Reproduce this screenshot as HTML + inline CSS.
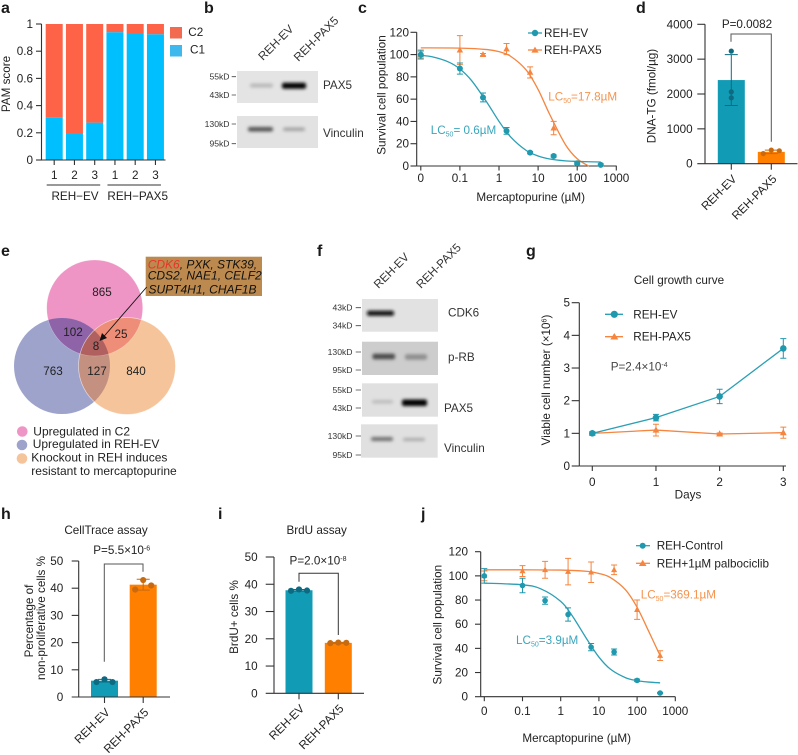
<!DOCTYPE html>
<html>
<head>
<meta charset="utf-8">
<title>Multi-panel figure: PAX5 and mercaptopurine resistance</title>
<style>
html,body{margin:0;padding:0;background:#fff;}
svg{display:block;}
text{font-family:"Liberation Sans",sans-serif;font-size:11.7px;fill:#222;}
.pl{font-size:16px;font-weight:bold;fill:#1a1a1a;}
.mk{font-size:8.6px;text-anchor:end;fill:#333;}
.bl{font-size:11.7px;fill:#333;}
.tk{stroke:#444;stroke-width:0.8;}
</style>
</head>
<body>
<svg id="fig" xmlns="http://www.w3.org/2000/svg" width="798" height="755" viewBox="0 0 798 755">
<defs>
<filter id="b1" x="-30%" y="-250%" width="160%" height="600%"><feGaussianBlur stdDeviation="1.7"/></filter>
<clipPath id="cT"><circle cx="94.7" cy="308" r="48"/></clipPath>
<clipPath id="cL"><circle cx="62" cy="366" r="48"/></clipPath>
<clipPath id="cR"><circle cx="127" cy="366" r="48.5"/></clipPath>
</defs>

<!-- panel letters -->
<text class="pl" x="1" y="13">a</text>
<text class="pl" x="204" y="13">b</text>
<text class="pl" x="358" y="13">c</text>
<text class="pl" x="636" y="13">d</text>
<text class="pl" x="1" y="256">e</text>
<text class="pl" x="317" y="256">f</text>
<text class="pl" x="526" y="256">g</text>
<text class="pl" x="1" y="519">h</text>
<text class="pl" x="218" y="519">i</text>
<text class="pl" x="421" y="519">j</text>

<!-- panel a static -->
<g id="pa">
<text transform="translate(10 84) rotate(-90)" text-anchor="middle">PAM score</text>
<rect x="170" y="27" width="12" height="11.5" fill="#F26A50"/>
<text x="188.3" y="36">C2</text>
<rect x="170" y="45" width="12" height="11.5" fill="#3FB8EE"/>
<text x="190" y="53.3">C1</text>
</g>

<!-- panel b blots -->
<g>
<text transform="translate(263 61) rotate(-45)" class="bl">REH-EV</text>
<text transform="translate(298.5 62) rotate(-45)" class="bl">REH-PAX5</text>
<rect x="237" y="71" width="81" height="32" fill="#e4e4e4"/>
<rect x="250" y="83.5" width="23" height="4" rx="2" fill="#b8b8b8" filter="url(#b1)"/>
<rect x="282" y="82.7" width="24" height="6" rx="2" fill="#000" filter="url(#b1)"/>
<rect x="237" y="116" width="81" height="32" fill="#e2e2e2"/>
<rect x="248" y="127" width="25" height="4.5" rx="2" fill="#555" filter="url(#b1)"/>
<rect x="283" y="127.5" width="22" height="3.5" rx="2" fill="#a2a2a2" filter="url(#b1)"/>
<text class="mk" x="229.5" y="79.7">55kD</text>
<text class="mk" x="229.5" y="98">43kD</text>
<text class="mk" x="229.5" y="127">130kD</text>
<text class="mk" x="229.5" y="146.7">95kD</text>
<path class="tk" d="M231.7 76.7H236M231.7 95H236M231.7 124H236M231.7 143.7H236"/>
<text class="bl" x="323" y="89">PAX5</text>
<text class="bl" x="323" y="137">Vinculin</text>
</g>

<!-- panel c static -->
<g id="pc">
<text transform="translate(385.5 95) rotate(-90)" text-anchor="middle">Survival cell population</text>
<text x="530.7" y="201" text-anchor="middle">Mercaptopurine (µM)</text>
<path d="M528 33H542" stroke="#2B9FB5" stroke-width="1.3"/>
<circle cx="535" cy="33" r="3.2" fill="#2098AE"/>
<text x="544" y="37">REH-EV</text>
<path d="M528 50H542" stroke="#F5853F" stroke-width="1.3"/>
<polygon points="535,46.6 538.6,52.6 531.4,52.6" fill="#F5853F"/>
<text x="544" y="54">REH-PAX5</text>
<text x="548.3" y="100.7" style="fill:#F5944F">LC<tspan dy="2.5" style="font-size:7px;fill:#F5944F">50</tspan><tspan dy="-2.5" style="fill:#F5944F">=17.8µM</tspan></text>
<text x="430.7" y="134" style="fill:#3AA6BC">LC<tspan dy="2.5" style="font-size:7px;fill:#3AA6BC">50</tspan><tspan dy="-2.5" style="fill:#3AA6BC">= 0.6µM</tspan></text>
</g>

<!-- panel d static -->
<g id="pd">
<text transform="translate(655.5 96) rotate(-90)" text-anchor="middle">DNA-TG (fmol/µg)</text>
<text x="747" y="28" text-anchor="middle">P=0.0082</text>
<path d="M731 41.7V34H771.3V141.7" fill="none" stroke="#555" stroke-width="1"/>
</g>

<!-- panel e venn -->
<g>
<circle cx="94.7" cy="308" r="48" fill="#EE95C5"/>
<circle cx="62" cy="366" r="48" fill="#9EA3CC"/>
<circle cx="127" cy="366" r="48.5" fill="#F5C49A"/>
<g clip-path="url(#cT)"><circle cx="62" cy="366" r="48" fill="#8E63A8"/></g>
<g clip-path="url(#cT)"><circle cx="127" cy="366" r="48.5" fill="#EE8D78"/></g>
<g clip-path="url(#cL)"><circle cx="127" cy="366" r="48.5" fill="#C49080"/></g>
<g clip-path="url(#cT)"><g clip-path="url(#cL)"><circle cx="127" cy="366" r="48.5" fill="#B0615F"/></g></g>
<circle cx="127" cy="366" r="48.5" fill="none" stroke="#fff" stroke-opacity=".6" stroke-width=".7"/>
<circle cx="94.7" cy="308" r="48" fill="none" stroke="#fff" stroke-opacity=".35" stroke-width=".6"/>
<g text-anchor="middle" fill="#111">
<text x="102" y="296">865</text>
<text x="73" y="336">102</text>
<text x="121" y="338">25</text>
<text x="96" y="350">8</text>
<text x="53" y="375">763</text>
<text x="97" y="375">127</text>
<text x="136" y="375">840</text>
</g>
<rect x="145.7" y="256.7" width="116.3" height="39.3" fill="#BC8A4E"/>
<g style="font-style:italic">
<text x="147.7" y="268.5" style="font-size:12px;font-style:italic;fill:#111"><tspan style="fill:#E8342A;font-style:italic;font-size:12px">CDK6</tspan>, PXK, STK39,</text>
<text x="147.7" y="279.5" style="font-size:12px;font-style:italic;fill:#111">CDS2, NAE1, CELF2</text>
<text x="148.5" y="293.5" style="font-size:12px;font-style:italic;fill:#111">SUPT4H1, CHAF1B</text>
</g>
<path d="M146.7 287L103 337.5" stroke="#111" stroke-width=".9"/>
<polygon points="99.5,341 102,333 107,338" fill="#111"/>
<circle cx="22.3" cy="431.5" r="5.3" fill="#EE95C5"/>
<circle cx="22" cy="445" r="5.3" fill="#9EA3CC"/>
<circle cx="22" cy="458.5" r="5.3" fill="#F5C49A"/>
<text x="33.3" y="435.5" style="font-size:12px">Upregulated in C2</text>
<text x="32.7" y="448" style="font-size:12px">Upregulated in REH-EV</text>
<text x="31.3" y="461.5" style="font-size:12px">Knockout in REH induces</text>
<text x="31.3" y="475" style="font-size:12px">resistant to mercaptopurine</text>
</g>

<!-- panel f blots -->
<g>
<text transform="translate(378.5 289) rotate(-45)" class="bl">REH-EV</text>
<text transform="translate(421 289) rotate(-45)" class="bl">REH-PAX5</text>
<rect x="362" y="299" width="76" height="32.7" fill="#e2e2e2"/>
<rect x="367" y="310.7" width="27" height="5" rx="2" fill="#0a0a0a" filter="url(#b1)"/>
<rect x="362" y="341.7" width="76" height="33.3" fill="#cdcdcd"/>
<rect x="372.5" y="353.7" width="22.5" height="5.5" rx="2" fill="#4a4a4a" filter="url(#b1)"/>
<rect x="405" y="354.2" width="22" height="5.5" rx="2" fill="#8e8e8e" filter="url(#b1)"/>
<rect x="362" y="383.3" width="76" height="33.4" fill="#e0e0e0"/>
<rect x="372" y="400" width="21" height="3.5" rx="2" fill="#bcbcbc" filter="url(#b1)"/>
<rect x="402" y="399.5" width="25" height="6.5" rx="2" fill="#000" filter="url(#b1)"/>
<rect x="361" y="424.3" width="76.7" height="33.4" fill="#e0e0e0"/>
<rect x="371" y="437" width="22" height="4" rx="2" fill="#707070" filter="url(#b1)"/>
<rect x="403" y="438" width="22" height="3" rx="1.5" fill="#a8a8a8" filter="url(#b1)"/>
<text class="mk" x="352.5" y="310.7">43kD</text>
<text class="mk" x="352.5" y="328.7">34kD</text>
<text class="mk" x="352.5" y="355">130kD</text>
<text class="mk" x="352.5" y="373">95kD</text>
<text class="mk" x="352.5" y="393">55kD</text>
<text class="mk" x="352.5" y="411">43kD</text>
<text class="mk" x="352.5" y="439">130kD</text>
<text class="mk" x="352.5" y="458">95kD</text>
<path class="tk" d="M355.7 307.7H361M355.7 325.7H361M355.7 352H361M355.7 370H361M355.7 390H361M355.7 408H361M355.7 436H361M355.7 455H361"/>
<text class="bl" x="448" y="316.7">CDK6</text>
<text class="bl" x="448" y="361">p-RB</text>
<text class="bl" x="444" y="412">PAX5</text>
<text class="bl" x="444" y="452">Vinculin</text>
</g>

<!-- panel g static -->
<g id="pg">
<text x="679" y="284" text-anchor="middle">Cell growth curve</text>
<text transform="translate(550 380) rotate(-90)" text-anchor="middle">Viable cell number (×10<tspan dy="-3.5" style="font-size:7px">6</tspan><tspan dy="3.5">)</tspan></text>
<text x="688" y="498.5" text-anchor="middle">Days</text>
<path d="M605 314.3H623" stroke="#2B9FB5" stroke-width="1.3"/>
<circle cx="614.3" cy="314.3" r="3.6" fill="#2098AE"/>
<text x="633.3" y="318.5">REH-EV</text>
<path d="M605 336.7H623" stroke="#F5853F" stroke-width="1.3"/>
<polygon points="614.3,333 618.3,339.5 610.3,339.5" fill="#F5853F"/>
<text x="633.3" y="340.7">REH-PAX5</text>
<text x="610.7" y="370.7" style="fill:#444">P=2.4×10<tspan dy="-3.5" style="font-size:7px;fill:#444">-4</tspan></text>
</g>

<!-- panel h static -->
<g id="ph">
<text x="106" y="534" text-anchor="middle">CellTrace assay</text>
<text transform="translate(33 621) rotate(-90)" text-anchor="middle">Percentage of</text>
<text transform="translate(45 618) rotate(-90)" text-anchor="middle">non-proliferative cells %</text>
<text x="121.7" y="554" text-anchor="middle">P=5.5×10<tspan dy="-3.5" style="font-size:7px">-6</tspan></text>
<path d="M104.3 661.7V564H143V571.7" fill="none" stroke="#555" stroke-width="1"/>
</g>

<!-- panel i static -->
<g id="pi">
<text x="316.7" y="534" text-anchor="middle">BrdU assay</text>
<text transform="translate(238 617) rotate(-90)" text-anchor="middle">BrdU+ cells %</text>
<text x="318" y="564.5" text-anchor="middle">P=2.0×10<tspan dy="-3.5" style="font-size:7px">-8</tspan></text>
<path d="M299 581.7V573.3H338.3V635" fill="none" stroke="#333" stroke-width="1"/>
</g>

<!-- panel j static -->
<g id="pj">
<text transform="translate(441.5 624.7) rotate(-90)" text-anchor="middle">Survival cell population</text>
<text x="576.7" y="742" text-anchor="middle">Mercaptopurine (µM)</text>
<path d="M636 545.7H650" stroke="#2B9FB5" stroke-width="1.3"/>
<circle cx="642.7" cy="545.7" r="3" fill="#2098AE"/>
<text x="656.7" y="549.7">REH-Control</text>
<path d="M636 563.3H650" stroke="#F5853F" stroke-width="1.3"/>
<polygon points="642.7,559.8 646.5,566 638.9,566" fill="#F5853F"/>
<text x="656.7" y="567.3">REH+1µM palbociclib</text>
<text x="640.7" y="598.3" style="fill:#F5944F">LC<tspan dy="2.5" style="font-size:7px;fill:#F5944F">50</tspan><tspan dy="-2.5" style="fill:#F5944F">=369.1µM</tspan></text>
<text x="516" y="644" style="fill:#3AA6BC">LC<tspan dy="2.5" style="font-size:7px;fill:#3AA6BC">50</tspan><tspan dy="-2.5" style="fill:#3AA6BC">=3.9µM</tspan></text>
</g>
</svg>

<script>
// ---------- panel a data ----------
const aCategories = ['1','2','3','1','2','3'];
const aGroups = ['REH−EV','REH−PAX5'];
const aC1 = [0.31,0.195,0.275,0.94,0.93,0.925];
const aC2 = [0.69,0.805,0.725,0.06,0.07,0.075];
const aTicks = [0,0.2,0.4,0.6,0.8,1];

// ---------- panel c data ----------
const cConc = [0,0.1,0.39,1.56,6.25,25,100,400];
const cEv = [100,87.5,61.5,31.5,12,9,2.5,1];
const cEvErr = [4,5,4,3,1,1,1,1];
const cPax = [100,104,100,105,84,34,null,null];
const cPaxErr = [3,13,1,5,5,6,null,null];
const cCurveConc = [0,0.02,0.05,0.1,0.2,0.5,1,2,5,10,20,50,100,200,400];
const cCurveEv = [99.4,97.9,93.5,87.1,76.6,56.7,40.1,26,13.9,9,6.3,4.6,4.1,3.8,3.6];
const cCurvePaxConc = [0,0.1,0.5,1,2,5,10,20,50,100,200];
const cCurvePax = [106,105.8,104.5,102.6,98.4,86,68.7,46,19.2,6.5,-0.2];
const doseXTicks = [0,0.1,1,10,100,1000];
const survivalYTicks = [0,20,40,60,80,100,120];

// ---------- panel d data ----------
const dCategories = ['REH-EV','REH-PAX5'];
const dMeans = [2400,340];
const dErrs = [730,50];
const dDots = [[3230,2060,1890],[290,390,370]];
const dTicks = [0,1000,2000,3000,4000];

// ---------- panel g data ----------
const gDays = [0,1,2,3];
const gEv = [1,1.48,2.13,3.6];
const gEvErr = [0.05,0.1,0.22,0.3];
const gPax = [1,1.1,0.98,1.02];
const gPaxErr = [0.05,0.18,0.03,0.17];
const gTicks = [0,1,2,3,4,5];

// ---------- panel h data ----------
const hCategories = ['REH-EV','REH-PAX5'];
const hMeans = [6,41.3];
const hErrs = [0.5,2];
const hDots = [[5.5,6.5,5.5],[39.5,43,41]];
const hTicks = [0,10,20,30,40,50];

// ---------- panel i data ----------
const iCategories = ['REH-EV','REH-PAX5'];
const iMeans = [37.8,18.5];
const iErrs = [0.3,0.2];
const iDots = [[37.6,38.1,37.7],[18.4,18.6,18.5]];
const iTicks = [0,10,20,30,40,50];

// ---------- panel j data ----------
const jConc = [0,0.1,0.39,1.56,6.25,25,100,400];
const jCtrl = [100,92,79.5,68,41,37,13.5,3];
const jCtrlErr = [6,6,3,5.5,3,2.5,1,0.5];
const jPalbo = [100,104,105,103.5,103,105,72,34];
const jPalboErr = [4,4.5,7,11,8.5,4,8,4];
const jCurveCtrlConc = [0,0.1,0.3,1,2,5,10,20,50,100,200,400];
const jCurveCtrl = [94,92.6,89.3,78.9,67,46.9,32.8,22.8,15.7,13.3,12.1,11.5];
const jCurvePalboConc = [0,0.1,1,5,10,20,50,100,200,400];
const jCurvePalbo = [105,105,104.8,103.7,102,98.6,88.4,74,54.3,34];

// ---------- helpers ----------
const NS = 'http://www.w3.org/2000/svg';
const TEAL = '#2098AE', TEAL_L = '#2B9FB5', ORANGE = '#F5853F';
function node(parent, tag, attrs, name) {
  const e = document.createElementNS(NS, tag);
  for (const k in attrs) e.setAttribute(k, attrs[k]);
  
  
  parent.appendChild(e);
  return e;
}
function label(parent, x, cy, str, anchor, name) {
  const e = node(parent, 'text', {x: x, y: cy + 4, 'text-anchor': anchor}, name);
  e.textContent = str;
  return e;
}
function linear(d0, d1, r0, r1) { return v => r0 + (v - d0) / (d1 - d0) * (r1 - r0); }
function logX(origin, decade) { return v => origin + decade * (v === 0 ? -2 : Math.log10(v)); }
function axisPath(parent, d, name) {
  return node(parent, 'path', {d: d, fill: 'none', stroke: '#333', 'stroke-width': 1.1}, name);
}
function yAxis(parent, ticks, y, xPos, tickLeft, labelRight) {
  axisPath(parent, 'M' + xPos + ' ' + y(ticks[0]) + 'V' + y(ticks[ticks.length - 1]), 'y-axis');
  ticks.forEach(t => {
    axisPath(parent, 'M' + tickLeft + ' ' + y(t) + 'H' + xPos, 'y-tick');
    label(parent, labelRight, y(t), String(t), 'end', 'y-tick-label');
  });
}
function smooth(pts) {
  let d = 'M' + pts[0][0] + ' ' + pts[0][1];
  for (let i = 0; i < pts.length - 1; i++) {
    const p0 = pts[Math.max(i - 1, 0)], p1 = pts[i], p2 = pts[i + 1], p3 = pts[Math.min(i + 2, pts.length - 1)];
    d += 'C' + (p1[0] + (p2[0] - p0[0]) / 6) + ' ' + (p1[1] + (p2[1] - p0[1]) / 6) + ' ' +
         (p2[0] - (p3[0] - p1[0]) / 6) + ' ' + (p2[1] - (p3[1] - p1[1]) / 6) + ' ' + p2[0] + ' ' + p2[1];
  }
  return d;
}
function errorBar(parent, x, yLo, yHi, cap, color, name) {
  node(parent, 'path', {d: 'M' + x + ' ' + yLo + 'V' + yHi + 'M' + (x - cap) + ' ' + yLo + 'H' + (x + cap) + 'M' + (x - cap) + ' ' + yHi + 'H' + (x + cap), fill: 'none', stroke: color, 'stroke-width': 1}, name);
}
function circleMark(parent, x, y, r, color, name) {
  node(parent, 'circle', {cx: x, cy: y, r: r, fill: color}, name);
}
function triMark(parent, x, y, r, color, name) {
  node(parent, 'polygon', {points: x + ',' + (y - r * 1.1) + ' ' + (x + r) + ',' + (y + r * 0.75) + ' ' + (x - r) + ',' + (y + r * 0.75), fill: color}, name);
}
function series(parent, xs, vals, errs, X, Y, color, mark, r, cap, name) {
  vals.forEach((v, i) => {
    if (v === null) return;
    errorBar(parent, X(xs[i]), Y(v - errs[i]), Y(v + errs[i]), cap, color, name + '-error-bar');
    mark(parent, X(xs[i]), Y(v), r, color, name + '-point');
  });
}
function curve(parent, xs, vals, X, Y, color, name) {
  const pts = xs.map((c, i) => [X(c), Y(vals[i])]);
  node(parent, 'path', {d: smooth(pts), fill: 'none', stroke: color, 'stroke-width': 1.3}, name);
}

// ---------- panel a ----------
(function () {
  const g = document.getElementById('pa');
  const Y = linear(0, 1, 160, 24);
  const bw = 17;
  const X = i => 45.7 + i * 20.25;
  aC1.forEach((v, i) => {
    node(g, 'rect', {x: X(i), y: Y(v), width: bw, height: Y(0) - Y(v), fill: '#00BFFF'}, 'bar-c1');
    node(g, 'rect', {x: X(i), y: Y(v + aC2[i]), width: bw, height: Y(v) - Y(v + aC2[i]), fill: '#FF6347'}, 'bar-c2');
    axisPath(g, 'M' + (X(i) + bw / 2) + ' 160V165', 'x-tick');
    label(g, X(i) + bw / 2, 175, aCategories[i], 'middle', 'x-tick-label');
  });
  axisPath(g, 'M41.5 160H165.5', 'x-axis');
  yAxis(g, aTicks, Y, 41.5, 36, 33);
  aGroups.forEach((name, k) => {
    const a = X(k * 3) + 1, b = X(k * 3 + 2) + bw - 3;
    node(g, 'path', {d: 'M' + a + ' 185H' + b, stroke: '#333', 'stroke-width': 0.9}, 'group-line');
    label(g, k === 0 ? 75 : 137.7, 196, name, 'middle', 'group-label');
  });
})();

// ---------- dose response panels ----------
function dosePanel(id, X, Y, axisX, axisEnd, axisY, tickLeft, labelRight, labelCy) {
  const g = document.getElementById(id);
  axisPath(g, 'M' + axisX + ' ' + axisY + 'H' + axisEnd, 'x-axis');
  doseXTicks.forEach(t => {
    axisPath(g, 'M' + X(t) + ' ' + axisY + 'V' + (axisY + 4.5), 'x-tick');
    label(g, X(t), labelCy, String(t), 'middle', 'x-tick-label');
  });
  yAxis(g, survivalYTicks, Y, axisX, tickLeft, labelRight);
  return g;
}
(function () {
  const X = logX(499, 39.1), Y = linear(0, 120, 166, 32.3);
  const g = dosePanel('pc', X, Y, 416.7, 616.7, 166, 410.5, 409, 178);
  curve(g, cCurvePaxConc, cCurvePax, X, Y, ORANGE, 'curve-reh-pax5');
  series(g, cConc, cPax, cPaxErr, X, Y, ORANGE, triMark, 3.2, 3, 'reh-pax5');
  curve(g, cCurveConc, cCurveEv, X, Y, TEAL_L, 'curve-reh-ev');
  series(g, cConc, cEv, cEvErr, X, Y, TEAL, circleMark, 3, 3, 'reh-ev');
})();
(function () {
  const X = logX(560.7, 38.2), Y = linear(0, 120, 696.7, 551.7);
  const g = dosePanel('pj', X, Y, 480.7, 675.3, 696.7, 475, 468, 711);
  curve(g, jCurvePalboConc, jCurvePalbo, X, Y, ORANGE, 'curve-palbociclib');
  series(g, jConc, jPalbo, jPalboErr, X, Y, ORANGE, triMark, 3, 3, 'palbociclib');
  curve(g, jCurveCtrlConc, jCurveCtrl, X, Y, TEAL_L, 'curve-control');
  series(g, jConc, jCtrl, jCtrlErr, X, Y, TEAL, circleMark, 2.8, 3, 'control');
})();

// ---------- bar panels ----------
function barPanel(id, cats, means, errs, dots, ticks, Y, c0, step, axisX, axisEnd, tickLeft, labelRight, spread, r) {
  const g = document.getElementById(id);
  const colors = ['#129BB5', '#FF7F00'];
  const dark = ['#0E6A80', '#C76A10'];
  const axisY = Y(0), bw = 27;
  cats.forEach((c, i) => {
    const cx = c0 + i * step;
    node(g, 'rect', {x: cx - bw / 2, y: Y(means[i]), width: bw, height: axisY - Y(means[i]), fill: colors[i]}, 'bar-' + c.toLowerCase());
  });
  axisPath(g, 'M' + tickLeft + ' ' + axisY + 'H' + axisEnd, 'x-axis');
  ticks.slice(1).forEach(t => axisPath(g, 'M' + tickLeft + ' ' + Y(t) + 'H' + axisX, 'y-tick'));
  axisPath(g, 'M' + axisX + ' ' + axisY + 'V' + Y(ticks[ticks.length - 1]), 'y-axis');
  ticks.forEach(t => label(g, labelRight, Y(t), String(t), 'end', 'y-tick-label'));
  cats.forEach((c, i) => {
    const cx = c0 + i * step;
    errorBar(g, cx, Y(means[i] - errs[i]), Y(means[i] + errs[i]), 6.5, dark[i], 'error-bar-' + c.toLowerCase());
    dots[i].forEach((v, j) => circleMark(g, cx + (j - 1) * spread[i], Y(v), r, dark[i], 'dot-' + c.toLowerCase()));
    axisPath(g, 'M' + cx + ' ' + axisY + 'V' + (axisY + 6), 'x-tick');
    const t = node(g, 'text', {transform: 'translate(' + (cx + 6) + ' ' + (axisY + 16) + ') rotate(-45)', 'text-anchor': 'end'}, 'x-tick-label');
    t.textContent = c;
  });
}
barPanel('pd', dCategories, dMeans, dErrs, dDots, dTicks, linear(0, 4000, 163.7, 24.3), 731.3, 40, 705, 797.5, 697.3, 692.7, [0, 8], 2.6);
barPanel('ph', hCategories, hMeans, hErrs, hDots, hTicks, linear(0, 50, 697, 561), 104.5, 38.7, 78.7, 170, 71.7, 63.3, [8, 8], 3.1);
barPanel('pi', iCategories, iMeans, iErrs, iDots, iTicks, linear(0, 50, 693.3, 557), 299, 39.3, 274, 364, 265.7, 257.7, [8, 8], 3.1);

// ---------- panel g ----------
(function () {
  const g = document.getElementById('pg');
  const X = linear(0, 3, 592.3, 783.3), Y = linear(0, 5, 466, 302.7);
  axisPath(g, 'M579.3 466H786', 'x-axis');
  gDays.forEach(d => {
    axisPath(g, 'M' + X(d) + ' 466V471', 'x-tick');
    label(g, X(d), 482, String(d), 'middle', 'x-tick-label');
  });
  yAxis(g, gTicks, Y, 579.3, 571.7, 570);
  node(g, 'path', {d: 'M' + gPax.map((v, i) => X(gDays[i]) + ' ' + Y(v)).join('L'), fill: 'none', stroke: ORANGE, 'stroke-width': 1.3}, 'line-reh-pax5');
  series(g, gDays, gPax, gPaxErr, X, Y, ORANGE, triMark, 3.4, 3, 'reh-pax5');
  node(g, 'path', {d: 'M' + gEv.map((v, i) => X(gDays[i]) + ' ' + Y(v)).join('L'), fill: 'none', stroke: TEAL_L, 'stroke-width': 1.3}, 'line-reh-ev');
  series(g, gDays, gEv, gEvErr, X, Y, TEAL, circleMark, 3.3, 3, 'reh-ev');
})();
</script>
</body>
</html>
